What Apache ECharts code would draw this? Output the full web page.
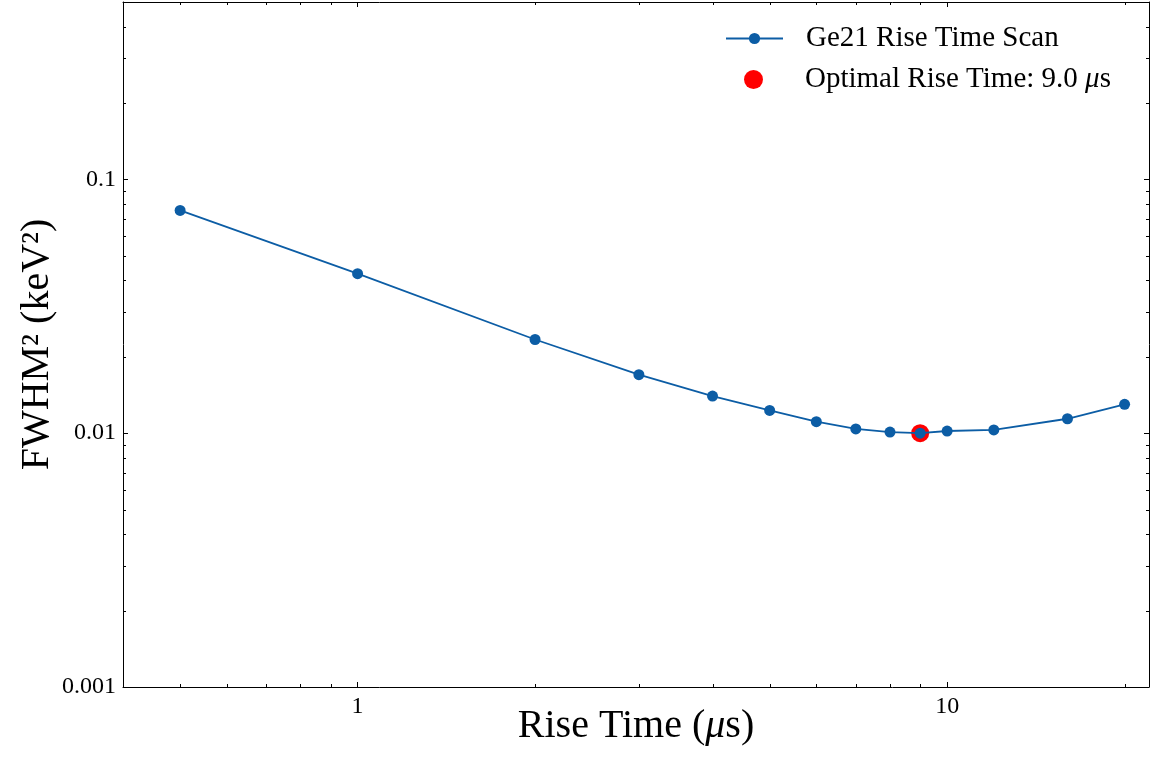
<!DOCTYPE html>
<html>
  <head>
    <meta charset="utf-8" />
    <title>Ge21 Rise Time Scan</title>
    <script src="https://cdn.jsdelivr.net/npm/echarts@6/dist/echarts.min.js"></script>
    <style>
      body { margin: 0; background: #fff; }
      #main { width: 1155px; height: 765px; }
    </style>
  </head>
  <body>
    <div id="main"></div>
    <script type="text/javascript">
// data
const riseTime = [0.5, 1, 2, 3, 4, 5, 6, 7, 8, 9, 10, 12, 16, 20];
const fwhm2 = [0.0755, 0.0425, 0.0234, 0.0170, 0.0140, 0.0123, 0.0111, 0.0104, 0.0101, 0.0100, 0.0102, 0.0103, 0.0114, 0.0130];
const optimalTime = [9.0];
const optimalFwhm2 = [0.0100];

// axis ranges and minor tick values (log axes)
const xRange = [0.4, 22];
const yRange = [0.001, 0.5];
const xMinor = [0.5, 0.6, 0.7, 0.8, 0.9, 2, 3, 4, 5, 6, 7, 8, 9, 20];
const yMinor = [0.002, 0.003, 0.004, 0.005, 0.006, 0.007, 0.008, 0.009,
  0.02, 0.03, 0.04, 0.05, 0.06, 0.07, 0.08, 0.09, 0.2, 0.3, 0.4];

const FONT = '"Liberation Serif", "DejaVu Serif", serif';
const BLUE = '#0C5DA5';

var chartDom = document.getElementById('main');
var myChart = echarts.init(chartDom);

function tickLine(x1, y1, x2, y2) {
  return { type: 'line', shape: { x1: x1, y1: y1, x2: x2, y2: y2 }, style: { stroke: '#000', lineWidth: 1 } };
}

// minor ticks on bottom + top
function xMinorItem(params, api) {
  var v = api.value(0);
  var b = api.coord([v, yRange[0]]);
  var t = api.coord([v, yRange[1]]);
  var x = Math.round(b[0]) + 0.5;
  return { type: 'group', children: [
    tickLine(x, b[1], x, b[1] - 3),
    tickLine(x, t[1], x, t[1] + 3)
  ] };
}
// minor ticks on left + right
function yMinorItem(params, api) {
  var v = api.value(1);
  var l = api.coord([xRange[0], v]);
  var r = api.coord([xRange[1], v]);
  var y = Math.round(l[1]) + 0.5;
  return { type: 'group', children: [
    tickLine(l[0], y, l[0] + 3, y),
    tickLine(r[0], y, r[0] - 3, y)
  ] };
}

function logAxis(pos, range, show) {
  return {
    type: 'log',
    logBase: 10,
    position: pos,
    min: range[0],
    max: range[1],
    axisLine: { show: true, onZero: false, lineStyle: { color: '#000', width: 1 } },
    axisTick: { show: true, inside: true, length: 5, lineStyle: { color: '#000', width: 1 } },
    minorTick: { show: false },
    splitLine: { show: false },
    axisLabel: {
      show: show,
      showMinLabel: pos === 'left',
      showMaxLabel: false,
      margin: pos === 'left' ? 7 : 8,
      color: '#000',
      fontFamily: FONT,
      fontSize: 24
    }
  };
}

var xBottom = logAxis('bottom', xRange, true);
xBottom.name = '{n|Rise Time (}{i|μ}{n|s)}';
xBottom.nameLocation = 'middle';
xBottom.nameGap = 19;
xBottom.nameMoveOverlap = false;
xBottom.nameTextStyle = {
  rich: {
    n: { fontFamily: FONT, fontSize: 40, color: '#000' },
    i: { fontFamily: FONT, fontSize: 40, fontStyle: 'italic', color: '#000' }
  }
};
var yLeft = logAxis('left', yRange, true);
yLeft.name = 'FWHM² (keV²)';
yLeft.nameLocation = 'middle';
yLeft.nameGap = 66;
yLeft.nameMoveOverlap = false;
yLeft.nameTextStyle = { fontFamily: FONT, fontSize: 40, color: '#000' };

var option = {
  animation: false,
  backgroundColor: '#fff',
  grid: { left: 123, right: 6, top: 2, bottom: 78 },
  xAxis: [xBottom, logAxis('top', xRange, false)],
  yAxis: [yLeft, logAxis('right', yRange, false)],
  legend: [
    {
      data: ['Ge21 Rise Time Scan'],
      orient: 'vertical',
      left: 725,
      top: 24,
      padding: 0,
      itemWidth: 57,
      itemHeight: 14,
      formatter: '{g|}{n|{name}}',
      textStyle: {
        rich: {
          g: { width: 18 },
          n: { fontFamily: FONT, fontSize: 29, color: '#000' }
        }
      }
    },
    {
      data: ['Optimal Rise Time: 9.0 μs'],
      orient: 'vertical',
      left: 744,
      top: 65,
      padding: 0,
      itemWidth: 19,
      itemHeight: 19,
      formatter: '{g|}{n|Optimal Rise Time: 9.0 }{i|μ}{n|s}',
      textStyle: {
        rich: {
          g: { width: 37 },
          n: { fontFamily: FONT, fontSize: 29, color: '#000' },
          i: { fontFamily: FONT, fontSize: 29, fontStyle: 'italic', color: '#000' }
        }
      }
    }
  ],
  series: [
    {
      name: 'Optimal Rise Time: 9.0 μs',
      type: 'scatter',
      symbol: 'circle',
      symbolSize: 18,
      itemStyle: { color: '#FF0000', opacity: 1 },
      data: optimalTime.map(function (t, i) { return [t, optimalFwhm2[i]]; }),
      z: 2
    },
    {
      name: 'Ge21 Rise Time Scan',
      type: 'line',
      symbol: 'circle',
      symbolSize: 11,
      showAllSymbol: true,
      color: BLUE,
      lineStyle: { color: BLUE, width: 1.8 },
      itemStyle: { color: BLUE, borderWidth: 0 },
      data: riseTime.map(function (t, i) { return [t, fwhm2[i]]; }),
      z: 3
    },
    {
      type: 'custom',
      renderItem: xMinorItem,
      data: xMinor.map(function (v) { return [v, yRange[0]]; }),
      encode: { x: 0, y: 1 },
      clip: false,
      silent: true,
      z: 4
    },
    {
      type: 'custom',
      renderItem: yMinorItem,
      data: yMinor.map(function (v) { return [xRange[0], v]; }),
      encode: { x: 0, y: 1 },
      clip: false,
      silent: true,
      z: 4
    }
  ]
};

myChart.setOption(option);
    </script>
  </body>
</html>
